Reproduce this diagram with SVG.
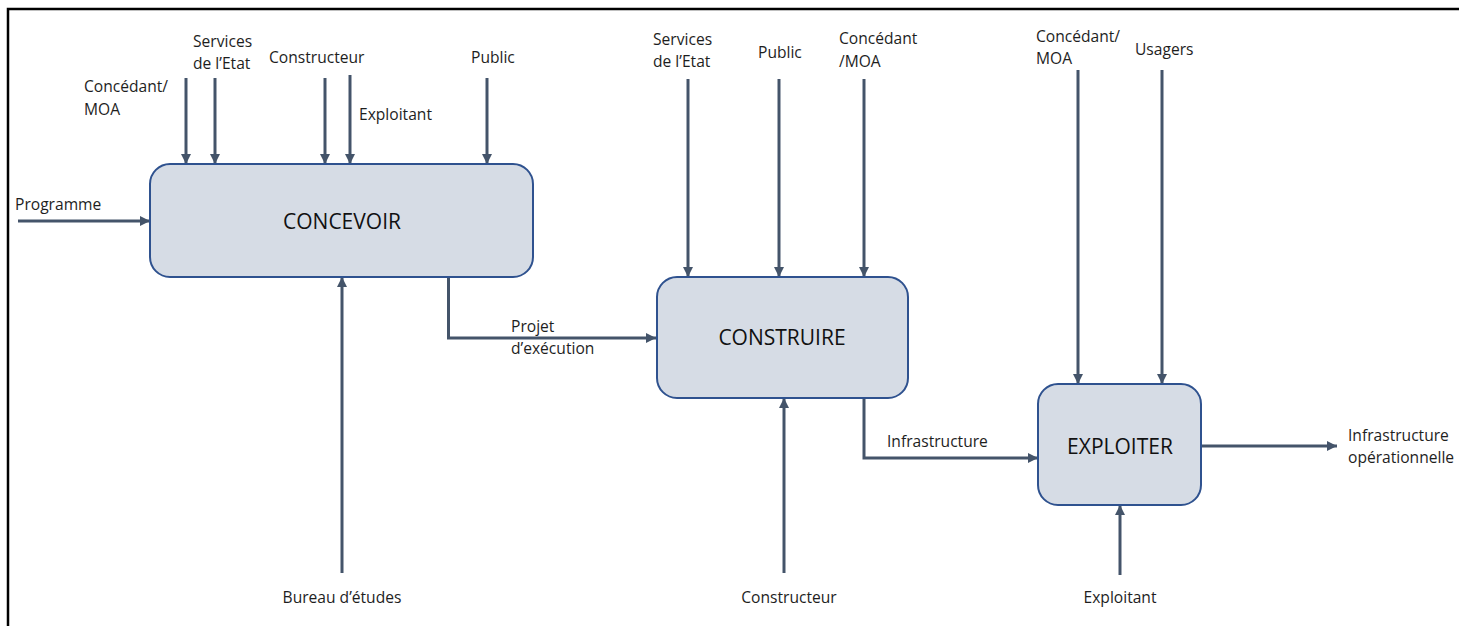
<svg xmlns="http://www.w3.org/2000/svg" width="1459" height="626" viewBox="0 0 1459 626">
<style>
.lbl{font-family:"Open Sans","Liberation Sans",sans-serif;font-size:15.6px;fill:#1e1e1e}
.ttl{font-family:"Open Sans","Liberation Sans",sans-serif;font-size:21px;fill:#111;text-anchor:middle}
.box{fill:#D6DCE5;stroke:#2F528F;stroke-width:2}
.arr{fill:none;stroke:#44546A;stroke-width:3;marker-end:url(#ah)}
.frame{stroke:#000;stroke-width:2.5;fill:none}
</style>
<defs>
<marker id="ah" markerUnits="userSpaceOnUse" markerWidth="12" markerHeight="12" refX="10" refY="6" orient="auto">
<path d="M0,1 L10,6 L0,11 Z" fill="#44546A"/>
</marker>
</defs>
<rect width="1459" height="626" fill="#fff"/>
<path class="frame" d="M8,626 L8,9 L1459,9"/>

<g id="connectors">
<line class="arr" x1="18" y1="221" x2="150" y2="221"/>
<line class="arr" x1="186" y1="78" x2="186" y2="164"/>
<line class="arr" x1="215" y1="78" x2="215" y2="164"/>
<line class="arr" x1="325" y1="78" x2="325" y2="164"/>
<line class="arr" x1="350" y1="75" x2="350" y2="164"/>
<line class="arr" x1="487" y1="78" x2="487" y2="164"/>
<line class="arr" x1="342" y1="573" x2="342" y2="277"/>
<polyline class="arr" points="448.5,274 448.5,338 656,338"/>
<line class="arr" x1="688" y1="79" x2="688" y2="277"/>
<line class="arr" x1="779" y1="79" x2="779" y2="277"/>
<line class="arr" x1="864" y1="79" x2="864" y2="277"/>
<line class="arr" x1="784" y1="573" x2="784" y2="398"/>
<polyline class="arr" points="864,395 864,458 1038,458"/>
<line class="arr" x1="1078" y1="70" x2="1078" y2="384"/>
<line class="arr" x1="1162" y1="70" x2="1162" y2="384"/>
<line class="arr" x1="1120" y1="575" x2="1120" y2="505"/>
<line class="arr" x1="1201" y1="446" x2="1337" y2="446"/>
</g>

<g id="concevoir">
<rect class="box" x="150" y="164" width="383" height="113" rx="20"/>
<text class="ttl" x="342" y="229">CONCEVOIR</text>
</g>
<g id="construire">
<rect class="box" x="657" y="277" width="251" height="121" rx="20"/>
<text class="ttl" x="782" y="345">CONSTRUIRE</text>
</g>
<g id="exploiter">
<rect class="box" x="1038" y="384" width="163" height="121" rx="20"/>
<text class="ttl" x="1120" y="454">EXPLOITER</text>
</g>

<g id="labels">
<text class="lbl" x="15" y="210">Programme</text>
<text class="lbl" x="84" y="92">Concédant/</text>
<text class="lbl" x="84" y="115">MOA</text>
<text class="lbl" x="193" y="47">Services</text>
<text class="lbl" x="193" y="69">de l’Etat</text>
<text class="lbl" x="269" y="63">Constructeur</text>
<text class="lbl" x="359" y="120">Exploitant</text>
<text class="lbl" x="471" y="63">Public</text>
<text class="lbl" x="342" y="603" text-anchor="middle">Bureau d’études</text>
<text class="lbl" x="511" y="332">Projet</text>
<text class="lbl" x="511" y="354">d’exécution</text>
<text class="lbl" x="653" y="45">Services</text>
<text class="lbl" x="653" y="67">de l’Etat</text>
<text class="lbl" x="758" y="58">Public</text>
<text class="lbl" x="839" y="44">Concédant</text>
<text class="lbl" x="839" y="67">/MOA</text>
<text class="lbl" x="789" y="603" text-anchor="middle">Constructeur</text>
<text class="lbl" x="887" y="447">Infrastructure</text>
<text class="lbl" x="1036" y="42">Concédant/</text>
<text class="lbl" x="1036" y="64">MOA</text>
<text class="lbl" x="1135" y="55">Usagers</text>
<text class="lbl" x="1120" y="603" text-anchor="middle">Exploitant</text>
<text class="lbl" x="1348" y="441">Infrastructure</text>
<text class="lbl" x="1348" y="463">opérationnelle</text>
</g>
</svg>
